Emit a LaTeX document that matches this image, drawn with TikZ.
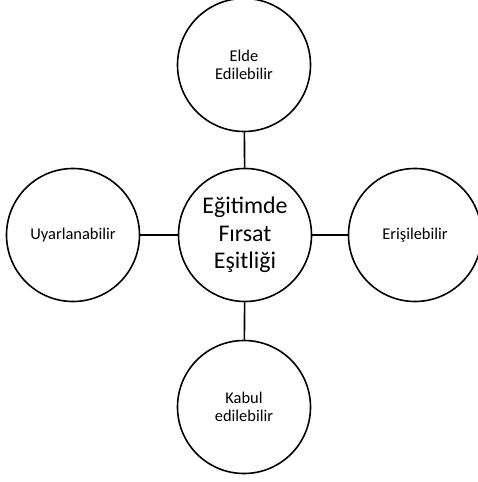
\documentclass[tikz,border=0pt]{standalone}
\usepackage{fontspec}
\setmainfont{Carlito}
\begin{document}
\begin{tikzpicture}[x=1bp,y=-1bp,
  bubble/.style={circle,draw=black,line width=1.6bp,fill=white,minimum size=133bp,inner sep=0pt,align=center,font=\fontsize{16.5}{18}\selectfont},
  hub/.style={bubble,font=\fontsize{24}{27.5}\selectfont},
  link/.style={draw=black,line width=1.6bp}]
\useasboundingbox (0,0) rectangle (478,482);
\node[hub] (c) at (245,235) {Eğitimde\\Fırsat\\Eşitliği};
\node[bubble] (t) at (244,65) {Elde\\Edilebilir};
\node[bubble] (l) at (73,235) {Uyarlanabilir};
\node[bubble] (r) at (415,235) {Erişilebilir};
\node[bubble] (b) at (244,407) {Kabul\\edilebilir};
\draw[link] (c) -- (t);
\draw[link] (c) -- (l);
\draw[link] (c) -- (r);
\draw[link] (c) -- (b);
\end{tikzpicture}
\end{document}
